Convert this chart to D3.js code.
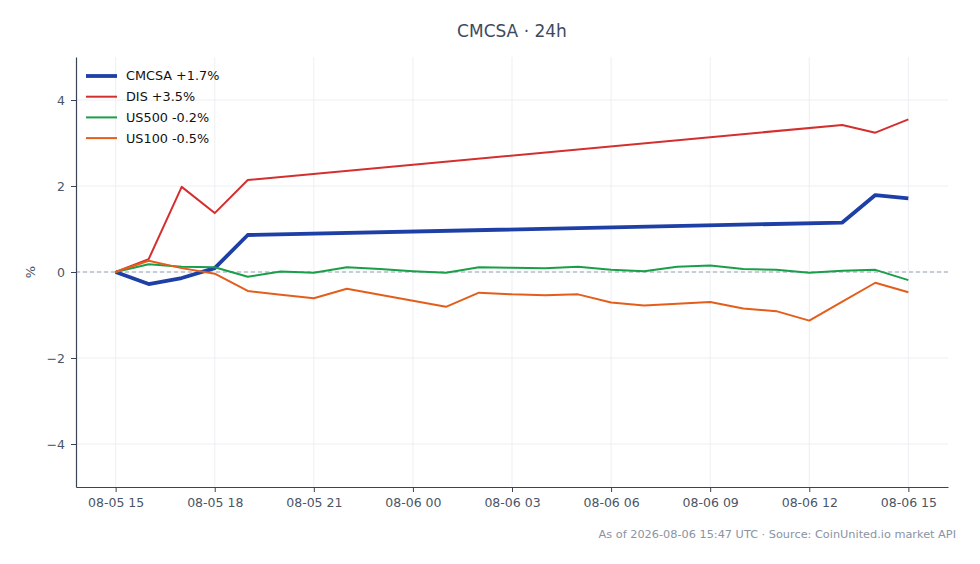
<!DOCTYPE html>
<html>
<head>
	<meta http-equiv="Content-Type" content="text/html;charset=utf-8"/>
	<title>CMCSA 24h</title>
	<script src="https://d3js.org/d3.v7.min.js"></script>
	<style type="text/css">
		body { margin: 0; background: #fff; }
		svg { font-family: "DejaVu Sans", sans-serif; }
		.grid line { stroke: #e8ebef; stroke-width: 0.8; }
		.axis path, .axis line { stroke: #3b4454; }
		.axis text { fill: #4a5566; font-size: 12.5px; font-family: "DejaVu Sans", sans-serif; }
		.legend text { font-size: 12.8px; fill: #111; }
	</style>
</head>
<body>
	<svg width="980" height="564"></svg>

<script type="text/javascript">
const svg = d3.select("svg");
const width = +svg.attr('width');
const height = +svg.attr('height');
const margin = {top: 57, right: 32, bottom: 77, left: 76};

// hourly timestamps (UTC), 08-05 15:00 .. 08-06 15:00
const start = Date.UTC(2026, 7, 5, 15);
const hours = d3.range(25).map(i => new Date(start + i * 3600e3));

// stock series only trade during market hours -> index of the hour they have values for
const stockHours = [0, 1, 2, 3, 4, 22, 23, 24];
const cmcsaValues = [0, -0.28, -0.14, 0.09, 0.86, 1.15, 1.79, 1.71];
const disValues = [0, 0.30, 1.98, 1.37, 2.14, 3.42, 3.24, 3.55];

const us500Values = [0, 0.18, 0.12, 0.11, -0.11, 0.01, -0.02, 0.11, 0.07, 0.02, -0.02, 0.11, 0.10,
	0.09, 0.12, 0.05, 0.02, 0.12, 0.15, 0.07, 0.05, -0.02, 0.03, 0.05, -0.19];
const us100Values = [0, 0.26, 0.09, -0.04, -0.44, -0.53, -0.61, -0.39, -0.53, -0.67, -0.81, -0.48, -0.52,
	-0.54, -0.52, -0.71, -0.78, -0.74, -0.70, -0.85, -0.91, -1.13, -0.69, -0.25, -0.47];

const seriesNames = ['CMCSA +1.7%', 'DIS +3.5%', 'US500 -0.2%', 'US100 -0.5%'];
const seriesColors = ['#1e3fa6', '#d42f2f', '#1a9e4a', '#e35e1a'];
const seriesWidths = [3.8, 2, 2, 2];

const yTicks = [-4, -2, 0, 2, 4];
const title = 'CMCSA · 24h';
const footer = 'As of 2026-08-06 15:47 UTC · Source: CoinUnited.io market API';

const series = [
	stockHours.map((h, i) => ({t: hours[h], v: cmcsaValues[i]})),
	stockHours.map((h, i) => ({t: hours[h], v: disValues[i]})),
	hours.map((t, i) => ({t: t, v: us500Values[i]})),
	hours.map((t, i) => ({t: t, v: us100Values[i]}))
];

const pad = 1.2 * 3600e3;
const x = d3.scaleUtc()
	.domain([+hours[0] - pad, +hours[24] + pad])
	.range([margin.left, width - margin.right]);
const y = d3.scaleLinear()
	.domain([-5, 5])
	.range([height - margin.bottom, margin.top]);

const xTicks = d3.range(0, 25, 3).map(i => hours[i]);

// grid
svg.append('g').attr('class', 'grid')
	.selectAll('line.v').data(xTicks).enter().append('line')
		.attr('x1', d => x(d)).attr('x2', d => x(d))
		.attr('y1', margin.top).attr('y2', height - margin.bottom);
svg.append('g').attr('class', 'grid')
	.selectAll('line.h').data(yTicks).enter().append('line')
		.attr('x1', margin.left).attr('x2', width - margin.right)
		.attr('y1', d => y(d)).attr('y2', d => y(d));

// zero line
svg.append('line')
	.attr('x1', margin.left).attr('x2', width - margin.right)
	.attr('y1', y(0)).attr('y2', y(0))
	.attr('stroke', '#98a2b3').attr('stroke-width', 1.1)
	.attr('stroke-dasharray', '4,3');

// axes
const fmt = d3.utcFormat('%m-%d %H');
const xAxis = svg.append('g').attr('class', 'axis')
	.attr('transform', `translate(0,${height - margin.bottom})`)
	.call(d3.axisBottom(x).tickValues(xTicks).tickFormat(fmt).tickSize(5).tickSizeOuter(0).tickPadding(6));
const yAxis = svg.append('g').attr('class', 'axis')
	.attr('transform', `translate(${margin.left},0)`)
	.call(d3.axisLeft(y).tickValues(yTicks).tickFormat(d => d < 0 ? '\u2212' + Math.abs(d) : d)
		.tickSize(5).tickSizeOuter(0).tickPadding(6));
svg.selectAll('.axis path.domain').attr('stroke-width', 1.2);

// lines
const line = d3.line().x(d => x(d.t)).y(d => y(d.v));
svg.append('g').selectAll('path.series').data(series).enter().append('path')
	.attr('fill', 'none')
	.attr('stroke', (d, i) => seriesColors[i])
	.attr('stroke-width', (d, i) => seriesWidths[i])
	.attr('stroke-linejoin', 'round')
	.attr('d', line);

// legend
const legend = svg.append('g').attr('class', 'legend')
	.attr('transform', `translate(${margin.left + 10},${margin.top + 19})`);
seriesNames.forEach((name, i) => {
	const row = legend.append('g').attr('transform', `translate(0,${i * 20.7})`);
	row.append('line').attr('x1', 0).attr('x2', 31).attr('y1', 0).attr('y2', 0)
		.attr('stroke', seriesColors[i]).attr('stroke-width', seriesWidths[i]);
	row.append('text').attr('x', 40).attr('y', 0).attr('dy', '0.35em').text(name);
});

// titles
svg.append('text')
	.attr('x', (margin.left + width - margin.right) / 2).attr('y', 37)
	.attr('text-anchor', 'middle').attr('font-size', 17).attr('fill', '#3d4a5e')
	.text(title);
svg.append('text')
	.attr('transform', `translate(35,${y(0)}) rotate(-90)`)
	.attr('text-anchor', 'middle').attr('font-size', 13).attr('fill', '#4a5566')
	.text('%');
svg.append('text')
	.attr('x', 956).attr('y', 538)
	.attr('text-anchor', 'end').attr('font-size', 11.3).attr('fill', '#8a93a3')
	.text(footer);
</script>
</body>
</html>
